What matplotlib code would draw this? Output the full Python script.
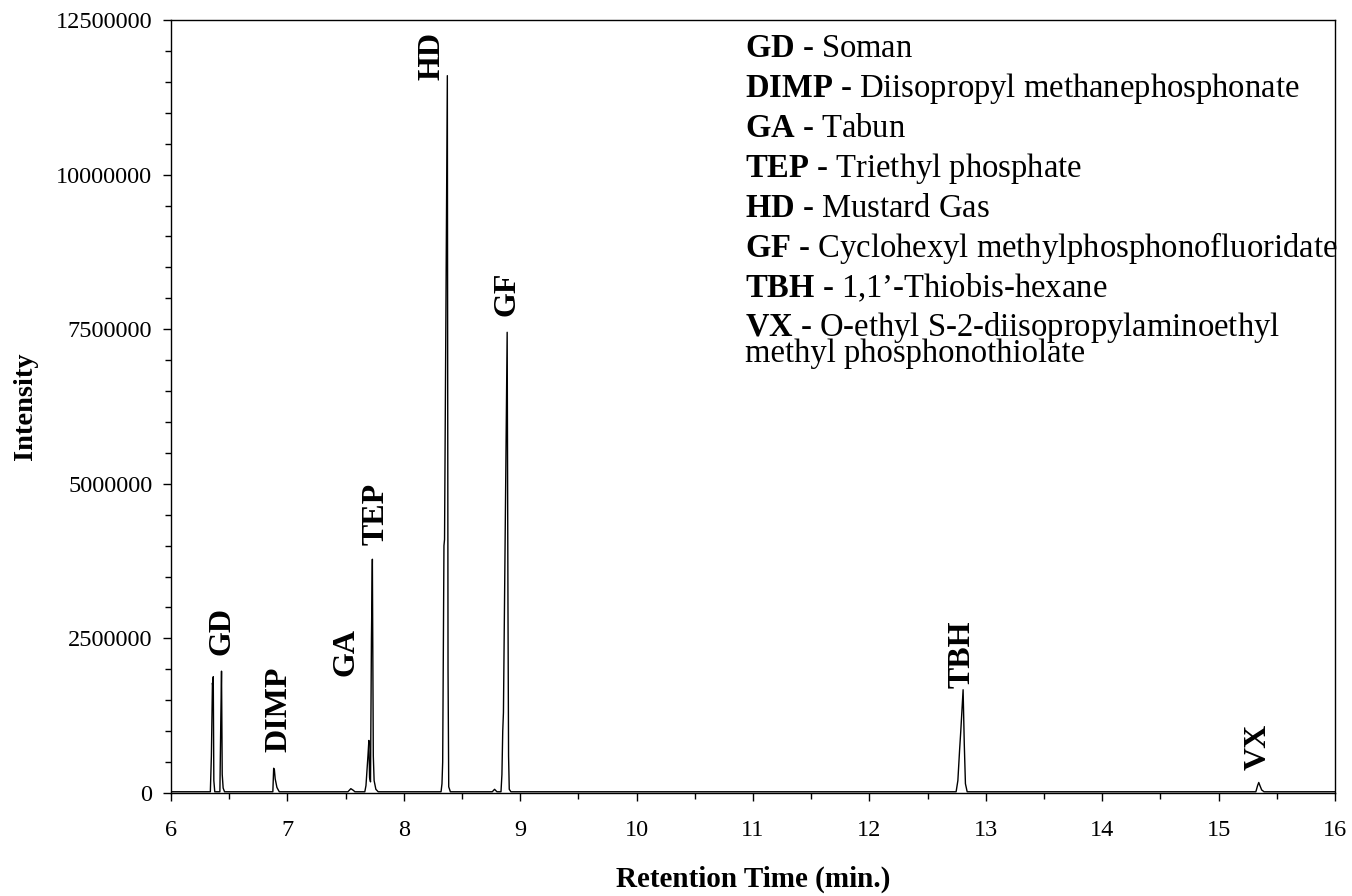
"""GC-MS chromatogram of chemical warfare agent simulants and agents."""

import matplotlib
matplotlib.use("Agg")
import matplotlib.pyplot as plt
from matplotlib.ticker import MultipleLocator

# Trace vertices (retention time in min, intensity)
rt = [
    6.00, 6.338, 6.347, 6.356, 6.359, 6.363, 6.368, 6.376,
    6.420, 6.428, 6.434, 6.440, 6.448, 6.460,
    6.875, 6.882, 6.888, 6.895, 6.910, 6.930,
    7.520, 7.545, 7.565, 7.580,
    7.665, 7.675, 7.692, 7.700, 7.706, 7.714, 7.722, 7.730, 7.738, 7.745, 7.760, 7.780,
    8.320, 8.328, 8.334, 8.345, 8.350, 8.374, 8.380, 8.386, 8.400,
    8.760, 8.780, 8.800,
    8.835, 8.843, 8.850, 8.856, 8.888, 8.895, 8.900, 8.906, 8.920,
    12.745, 12.760, 12.775, 12.785, 12.805, 12.815, 12.825, 12.840,
    15.320, 15.335, 15.345, 15.355, 15.370, 15.390, 16.00,
]
intensity = [
    20000, 20000, 600000, 1780000, 1720000, 1880000, 200000, 20000,
    20000, 1200000, 1970000, 300000, 80000, 20000,
    20000, 400000, 380000, 230000, 90000, 20000,
    20000, 70000, 45000, 20000,
    20000, 120000, 600000, 850000, 250000, 180000, 2500000, 3780000, 600000, 200000, 60000, 20000,
    20000, 150000, 500000, 4000000, 4100000, 11600000, 2000000, 100000, 20000,
    20000, 60000, 20000,
    20000, 300000, 1000000, 1300000, 7450000, 3000000, 600000, 60000, 20000,
    20000, 200000, 700000, 1000000, 1670000, 800000, 150000, 20000,
    20000, 120000, 170000, 120000, 50000, 20000, 20000,
]

peak_labels = ["GD", "DIMP", "GA", "TEP", "HD", "GF", "TBH", "VX"]
label_x = [6.44, 6.93, 7.50, 7.76, 8.24, 8.89, 12.80, 15.34]
label_y = [2230000, 660000, 1890000, 4010000, 11530000, 7710000, 1700000, 370000]

key_abbrev = ["GD", "DIMP", "GA", "TEP", "HD", "GF", "TBH", "VX"]
key_names = [
    "Soman",
    "Diisopropyl methanephosphonate",
    "Tabun",
    "Triethyl phosphate",
    "Mustard Gas",
    "Cyclohexyl methylphosphonofluoridate",
    "1,1\u2019-Thiobis-hexane",
    "O-ethyl S-2-diisopropylaminoethyl\nmethyl phosphonothiolate",
]

plt.rcParams["font.family"] = ["Liberation Serif", "DejaVu Serif"]
plt.rcParams["mathtext.fontset"] = "custom"
plt.rcParams["mathtext.rm"] = "Liberation Serif"
plt.rcParams["mathtext.bf"] = "Liberation Serif:bold"

fig = plt.figure(figsize=(13.52, 8.96), dpi=100)
ax = fig.add_axes([171 / 1352, 1 - 793 / 896, (1335 - 171) / 1352, (793 - 20) / 896])

ax.plot(rt, intensity, color="black", linewidth=1.0)

ax.set_xlim(6, 16)
ax.set_ylim(0, 12500000)
ax.xaxis.set_major_locator(MultipleLocator(1))
ax.xaxis.set_minor_locator(MultipleLocator(0.5))
ax.yaxis.set_major_locator(MultipleLocator(2500000))
ax.yaxis.set_minor_locator(MultipleLocator(500000))
ax.ticklabel_format(axis="y", style="plain")
ax.tick_params(which="major", direction="out", length=5.5, width=1, labelsize=17.5)
ax.tick_params(which="minor", direction="out", length=4, width=1)
ax.tick_params(axis="x", which="major", pad=14)
ax.tick_params(axis="y", which="major", pad=8)
for s in ax.spines.values():
    s.set_linewidth(1.0)

ax.set_xlabel("Retention Time (min.)", fontsize=21, fontweight="bold", labelpad=18)
ax.set_ylabel("Intensity", fontsize=20.5, fontweight="bold", labelpad=13)

for name, x, y in zip(peak_labels, label_x, label_y):
    ax.text(x, y, name, rotation=90, ha="center", va="bottom",
            fontsize=23, fontweight="bold")

# key of abbreviations, top right (bold abbreviation via mathtext)
kx = 0.493
ky = 0.952
step = 0.0518
fs = 23.5
ls = 0.72
line_adv = ls * 34.1 / 773  # one wrapped line, in axes fraction
for i, (ab, nm) in enumerate(zip(key_abbrev, key_names)):
    lines = nm.split("\n")
    s = r"$\mathbf{" + ab + "}$ - " + "\n".join(lines)
    # 'baseline' anchors the last line, so push wrapped entries down
    y = ky - i * step - (len(lines) - 1) * line_adv
    ax.text(kx, y, s, transform=ax.transAxes, fontsize=fs,
            va="baseline", ha="left", multialignment="left", linespacing=ls)

fig.savefig("out.png", dpi=100)
